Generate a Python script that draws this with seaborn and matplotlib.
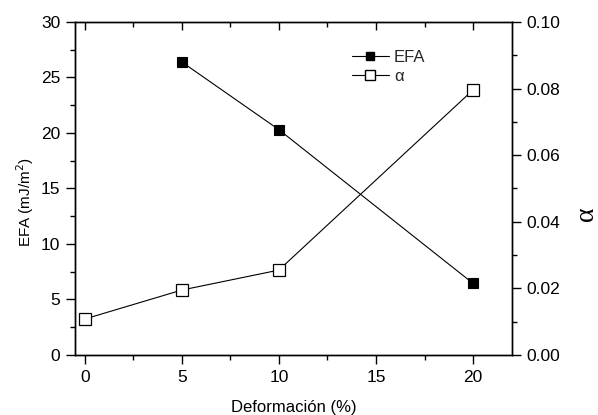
import matplotlib
matplotlib.use("Agg")
import matplotlib.pyplot as plt
from matplotlib.ticker import MultipleLocator, FormatStrFormatter
from matplotlib.lines import Line2D
import seaborn as sns
import pandas as pd

# Deformation levels and measured quantities
deformacion_efa = [5, 10, 20]
efa = [26.4, 20.3, 6.45]
deformacion_alpha = [0, 5, 10, 20]
alpha = [0.0108, 0.0195, 0.0255, 0.0796]

sns.set_theme(style="ticks")
plt.rcParams["font.family"] = ["Liberation Sans", "DejaVu Sans"]

fig = plt.figure(figsize=(5.98, 4.15), dpi=100)
ax = fig.add_axes([0.1254, 0.1446, 0.7306, 0.8024])
ax2 = ax.twinx()

df_efa = pd.DataFrame({"x": deformacion_efa, "y": efa})
df_alpha = pd.DataFrame({"x": deformacion_alpha, "y": alpha})

sns.lineplot(data=df_efa, x="x", y="y", ax=ax, color="black", lw=0.8,
             marker="s", markersize=6.5, markerfacecolor="black",
             markeredgecolor="black", markeredgewidth=0.8)
sns.lineplot(data=df_alpha, x="x", y="y", ax=ax2, color="black", lw=0.8,
             marker="s", markersize=8, markerfacecolor="white",
             markeredgecolor="black", markeredgewidth=0.9)

ax.set_xlim(-0.5, 22)
ax.set_ylim(0, 30)
ax2.set_ylim(0, 0.10)

ax.xaxis.set_major_locator(MultipleLocator(5))
ax.xaxis.set_minor_locator(MultipleLocator(2.5))
ax.yaxis.set_major_locator(MultipleLocator(5))
ax.yaxis.set_minor_locator(MultipleLocator(2.5))
ax2.yaxis.set_major_locator(MultipleLocator(0.02))
ax2.yaxis.set_minor_locator(MultipleLocator(0.01))
ax2.yaxis.set_major_formatter(FormatStrFormatter("%.2f"))

for a in (ax, ax2):
    for s in a.spines.values():
        s.set_color("black")
        s.set_linewidth(1.0)

TICK_FS = 12.5
ax.tick_params(axis="x", which="both", direction="out", top=False,
               bottom=True, labelsize=TICK_FS, color="black",
               labelcolor="black", pad=4)
ax.tick_params(axis="y", which="both", direction="out", labelsize=TICK_FS,
               right=False, color="black", labelcolor="black", pad=4)
ax2.tick_params(axis="y", which="both", direction="out", labelsize=TICK_FS,
                color="black", labelcolor="black", pad=4)
for a, axis in ((ax, "x"), (ax, "y"), (ax2, "y")):
    a.tick_params(axis=axis, which="major", length=6.5, width=1.0)
    a.tick_params(axis=axis, which="minor", length=3.5, width=1.0)

# Top-axis ticks point inward
secx = ax.secondary_xaxis("top")
secx.xaxis.set_major_locator(MultipleLocator(5))
secx.xaxis.set_minor_locator(MultipleLocator(2.5))
secx.tick_params(axis="x", which="both", direction="in", labeltop=False,
                 color="black")
secx.tick_params(axis="x", which="major", length=6, width=1.0)
secx.tick_params(axis="x", which="minor", length=3.5, width=1.0)
secx.spines["top"].set_visible(False)

ax.set_xlabel("Deformación (%)", fontsize=12, color="black")
ax.xaxis.set_label_coords(0.5, -0.157)
ax.xaxis.label.set(va="center", ha="center")

ax.set_ylabel("EFA (mJ/m$^2$)", fontsize=11, color="black")
ax.yaxis.set_label_coords(-0.114, 0.46)
ax.yaxis.label.set(va="center", ha="center")

ax2.set_ylabel("α", fontsize=20, color="black", rotation=90,
               family=["Liberation Serif", "DejaVu Serif"])
ax2.yaxis.set_label_coords(1.170, 0.423)
ax2.yaxis.label.set(va="center", ha="center")

handles = [
    Line2D([], [], color="black", lw=0.8, marker="s", markersize=6,
           markerfacecolor="black", markeredgecolor="black"),
    Line2D([], [], color="black", lw=0.8, marker="s", markersize=6.5,
           markerfacecolor="white", markeredgecolor="black"),
]
ax.legend(handles, ["EFA", "α"], loc="upper left",
          bbox_to_anchor=(0.6, 0.96), frameon=False, fontsize=12,
          handlelength=2.2, handletextpad=0.3, labelspacing=0.2)

fig.savefig("out.png", dpi=100)
